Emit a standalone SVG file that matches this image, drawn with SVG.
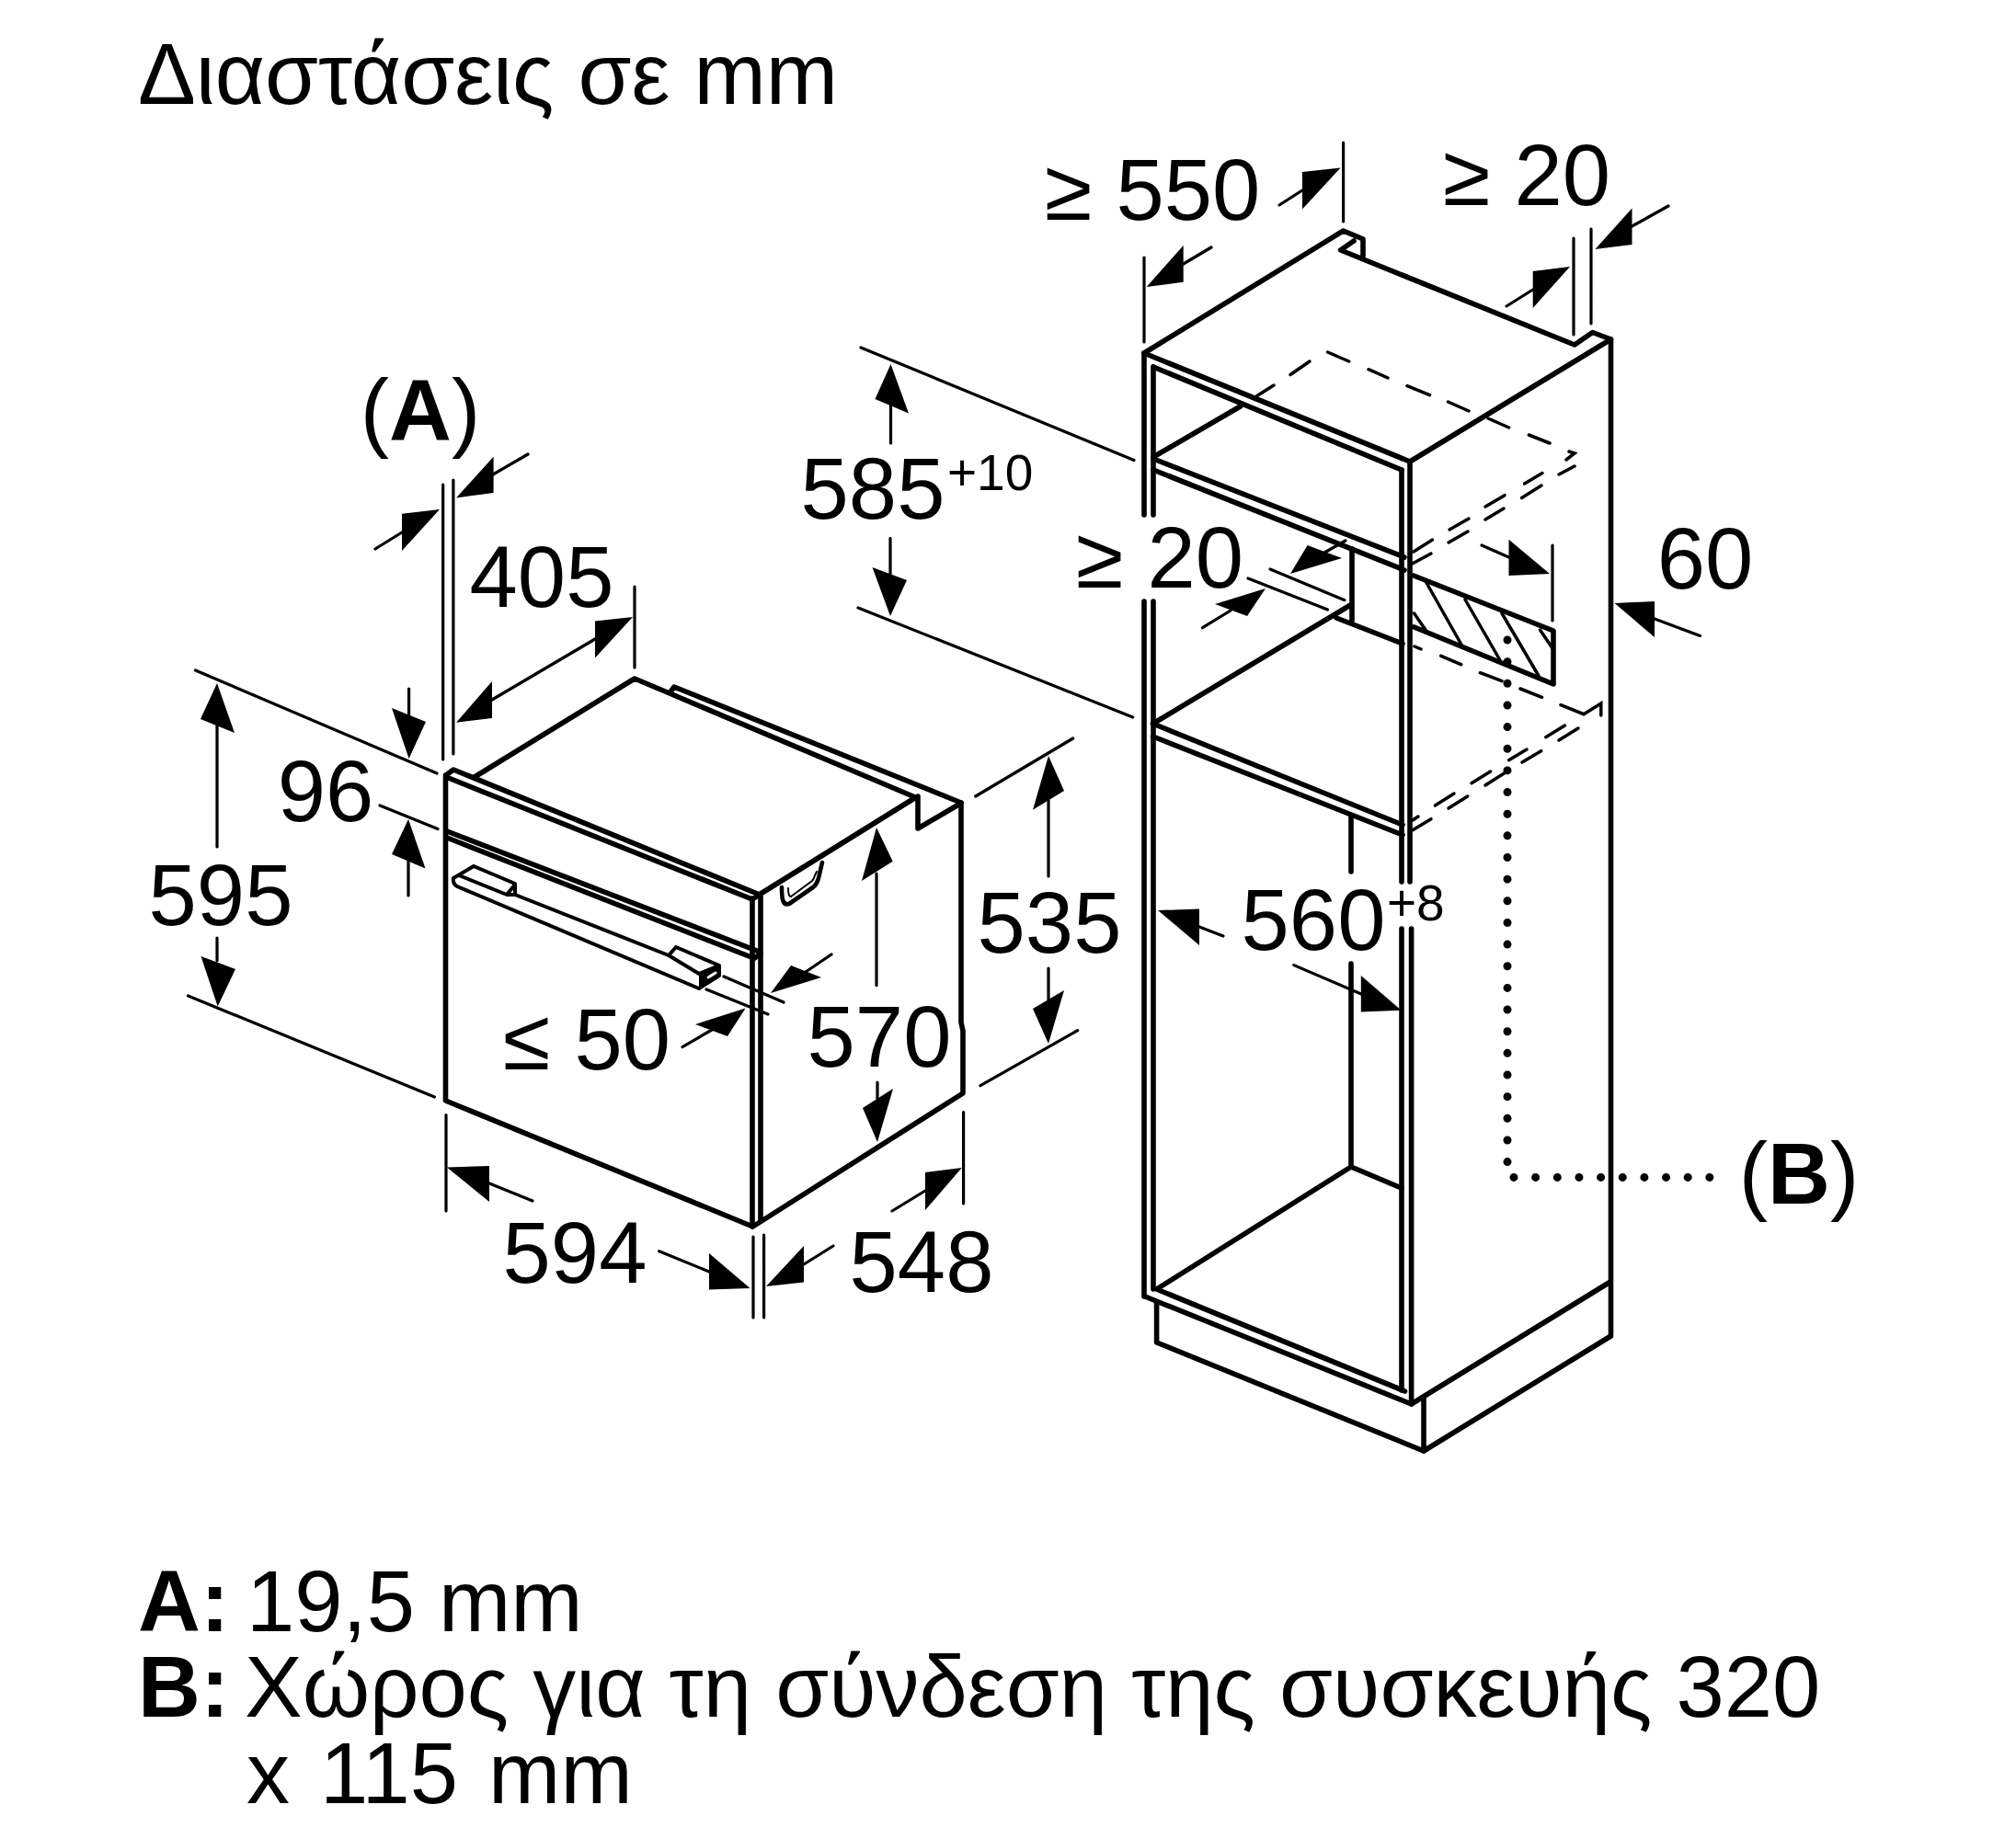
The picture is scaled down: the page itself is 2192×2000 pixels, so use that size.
<svg xmlns="http://www.w3.org/2000/svg" width="2192" height="2000" viewBox="0 0 2192 2000">
<style>
text{font-family:"Liberation Sans",Arial,sans-serif;fill:#000}
.l{font-size:94px;text-anchor:middle}
.s{font-size:55px}
.n{font-size:94px}
.b{font-weight:bold}
.m{fill:none;stroke:#000;stroke-width:5.6;stroke-linejoin:round;stroke-linecap:round}
.t{fill:none;stroke:#000;stroke-width:4;stroke-linejoin:round;stroke-linecap:round}
.h{fill:none;stroke:#000;stroke-width:3.5;stroke-linecap:round}
.d{fill:none;stroke:#000;stroke-width:3.2;stroke-linecap:round}
.o{fill:none;stroke:#000;stroke-width:9;stroke-linecap:round;stroke-dasharray:0 23.65}
polygon{fill:#000;stroke:none}
</style>
<rect width="2192" height="2000" fill="#fff"/>
<g id="oven">
<path class="m" d="M484.5,843V1197L818.5,1334L1047,1189V1121L1045,1112V873"/>
<path class="m" d="M818,977V1334M827,973V1328"/>
<path class="m" d="M485,843L493,837L826,973L818,978L485,845"/>
<path class="m" d="M486,904L823,1034L827,1037L819,1043M486,911L817,1041"/>
<path class="m" d="M516,845L690,738L728,754L733,747L1045,873M728,754L995,867M827,972L996,867M998,866V901L1044,874"/>
<path class="t" d="M515,942L560,961V973L727,1039M515,942L493,955Q492,961 497,964L760,1075M499,952L551,973L560,962M551,973L561,973"/>
<path class="t" d="M735,1030L782,1050V1061L760,1075M735,1030L727,1039L760,1059L782,1050"/>
<polygon points="760,1059 782,1050 782,1061 760,1075"/>
<path d="M770,1063L778,1058" stroke="#fff" stroke-width="3" stroke-linecap="round" fill="none"/>
<path class="m" style="stroke-width:4.6" d="M850,965C850,978 851,985 858,983L884,965Q888,962 890,955L894,938"/>
<path class="d" style="stroke-width:2" d="M857,966C857,972 858,975 860,975L883,958Q885,956 886,952L888,948"/>
</g>
<g id="cabinet">
<path class="m" d="M1244,384V560M1254,399V560M1244,654V1410M1254,654V1402"/>
<path class="m" d="M1244,384L1460.6,251L1482,260V279M1472,262L1457.6,272L1712,375L1731.5,361.5L1751.5,369V1453L1548,1578L1257.6,1460V1416"/>
<path class="m" d="M1244,384L1533,502L1751.5,369M1254,399L1524,511"/>
<path class="m" d="M1524,511V959M1533,502V959M1524,1010V1512M1534.6,1010V1527"/>
<path class="m" d="M1254,497L1348.5,442M1254,499L1527,606M1254,511L1527,620"/>
<path class="m" d="M1470,597V675M1453,672L1525,700M1253.6,787L1470,657M1537,626L1689,686V744L1537.6,682"/>
<path class="m" d="M1253.6,787L1525,897M1253.6,801L1525,908"/>
<path class="m" d="M1469,888V948M1469,1048V1269L1523.6,1292M1469,1269L1257.6,1402L1527.5,1513M1245,1410L1534.6,1527L1751,1394M1548,1519V1578"/>
<path class="h" d="M1550,632L1589.5,702M1593,652L1631,718M1633,667L1673,735M1674.5,685L1688,705M1537.6,667L1550,685"/>
<path class="h" d="M1443.6,383L1466.7,393M1488,401.7L1509,411M1530,419.7L1554.5,429.7M1574.5,437L1597,447M1618,455L1640.6,465M1662.4,473L1685,482M1706,491L1712,493L1703,500M1712,507L1695,516"/>
<path class="h" d="M1424,393L1403,407.5M1385,419L1366.7,430.4"/>
<path class="h" d="M1677,514.6L1657.6,526M1636,538.7L1615,551M1597,564L1576,576M1557.5,587L1537,600"/>
<path class="h" d="M1676,528L1654.5,541.4M1635,553L1615,565M1596,578L1575,590M1556,602L1535.6,613"/>
<path class="h" d="M1538,703L1545,706M1566.7,713.3L1588.6,722.7M1609.4,731.7L1633,740.7M1653,749L1676.5,758.3M1697,766.7L1722,776.7L1740.8,765V778"/>
<path class="h" d="M1701.4,789L1680.7,801.7M1660,815L1640.5,826.7M1620.6,839L1600,851.7M1581,863L1560.4,876M1542,888L1536,892"/>
<path class="h" d="M1716,792L1695,805M1675.7,816.7L1655,829M1637,840L1615,854M1595.7,866L1575,879M1556,890.7L1535.6,903"/>
<path class="o" d="M1639,696V1264"/>
<path class="o" d="M1646,1280.4H1860"/>
</g>
<g id="connectors">
<path class="d" d="M481.7,527V826M492.9,522V820M536,516L574,494M437,579L408,597"/>
<polygon points="496,541.5 536.6,496.7 536.6,536"/>
<polygon points="478,554 437,558.7 437,599"/>
<path class="d" d="M690,638V726M647,695L535,761"/>
<polygon points="688,671 647,675.4 647,715.6"/>
<polygon points="496,785.7 535,741 535,781"/>
<path class="d" d="M212.5,729L475,841M236,782V921M444.6,749V785M413,876L476,901.6M444,930V974"/>
<polygon points="236,743 218,782 255,797"/>
<polygon points="444.6,825 426,770 463,785"/>
<polygon points="444,891 426,929 462.5,944.5"/>
<path class="d" d="M236,1020V1045M204.5,1083L472.4,1193"/>
<polygon points="236.7,1094.6 218.5,1040 256,1054"/>
<path class="d" d="M787,1062L852,1090M768,1076L835,1103M904,1038L876,1057M742,1138.6L774,1120"/>
<polygon points="838,1080 860,1050 893,1063"/>
<polygon points="810.6,1096.4 756,1114 791,1127"/>
<path class="d" d="M953,950V1071.7M954,1177V1195"/>
<polygon points="953,900 937,958 970.7,936.7"/>
<polygon points="954,1242 938,1205 971,1184"/>
<path class="d" d="M1060.7,866L1166.7,803M1140,870V953M1140,1053V1087M1066,1180.7L1171.7,1120.7"/>
<polygon points="1140,822 1123,880.7 1157,860"/>
<polygon points="1140,1135 1123,1097 1157,1077"/>
<path class="d" d="M485,1212.5V1317M532,1287L579,1306M716.7,1360.7L771,1383M819,1345V1433M830.6,1343V1433M874,1375L906,1355M1006,1295L970,1317M1047.6,1209.6V1309"/>
<polygon points="486,1269.6 532,1268 532,1307"/>
<polygon points="815.5,1401 771,1363 771,1402.5"/>
<polygon points="833,1399 874,1355 874,1394.6"/>
<polygon points="1045.8,1270 1006,1275 1006,1316"/>
<path class="d" d="M1460.6,155V241M1416,207L1391,223M1244,280V372M1286.7,287L1317,269"/>
<polygon points="1457.6,182.4 1416,187 1416,227.6"/>
<polygon points="1246.7,312 1286.7,267 1286.7,306.8"/>
<path class="d" d="M1711,259V364M1730,249V352M1666.7,315L1638,333M1774.5,246L1814,224"/>
<polygon points="1707,290 1666.7,295 1666.7,335"/>
<polygon points="1734.5,271 1774.5,226.4 1774.5,266"/>
<path class="d" d="M936,378L1233,500.5M968.5,440V482M968,585.4V625M933,661L1231.7,780"/>
<polygon points="968.5,396 951.5,434 988,449.5"/>
<polygon points="968,670 948.5,617 986,631"/>
<path class="d" d="M1381,619L1462,652.7M1357,629L1443.5,663M1463,588L1440,601M1307.5,682.7L1338,664"/>
<polygon points="1403,624 1421.6,593 1459,607"/>
<polygon points="1376,640 1321,657 1356,670"/>
<path class="d" d="M1611,593L1640.5,606M1688,593V675"/>
<polygon points="1685,624 1640.5,586.7 1640.5,626"/>
<path class="d" d="M1799,673L1848.5,691.4"/>
<polygon points="1755.5,656 1799,654 1799,693"/>
<path class="d" d="M1304,1008L1330,1018M1406.8,1049.6L1480,1081"/>
<polygon points="1259,990 1304,988.5 1304,1028"/>
<polygon points="1523.6,1098.7 1479.8,1061 1479.8,1100.5"/>
</g>
<g id="labels">
<text x="150" y="113" font-size="94">Διαστάσεις σε mm</text>
<text class="l" x="457" y="479">(<tspan class="b">A</tspan>)</text>
<text class="l" x="589" y="660">405</text>
<text class="l" x="354" y="893">96</text>
<text class="l" x="240" y="1006">595</text>
<text class="l" x="625" y="1395">594</text>
<text class="l" x="1002" y="1405">548</text>
<text class="l" x="638" y="1163">≤ 50</text>
<text class="l" x="956" y="1160">570</text>
<text class="l" x="1141" y="1036">535</text>
<text class="l" x="1253" y="239">≥ 550</text>
<text class="l" x="1660" y="223">≥ 20</text>
<text class="l" x="1261" y="639">≥ 20</text>
<text class="l" x="949" y="564">585</text>
<text class="s" x="1030" y="533">+10</text>
<text class="l" x="1428" y="1033">560</text>
<text class="s" x="1508" y="1001">+8</text>
<text class="l" x="1854" y="640">60</text>
<text class="l" x="1956" y="1309">(<tspan class="b">B</tspan>)</text>
<text class="n b" x="150" y="1774">A:</text>
<text class="n" x="268" y="1774">19,5 mm</text>
<text class="n b" x="150" y="1867">B:</text>
<text class="n" x="266" y="1867">Χώρος για τη σύνδεση της συσκευής 320</text>
<text class="n" x="268" y="1961" word-spacing="7">x 115 mm</text>
</g>
</svg>
